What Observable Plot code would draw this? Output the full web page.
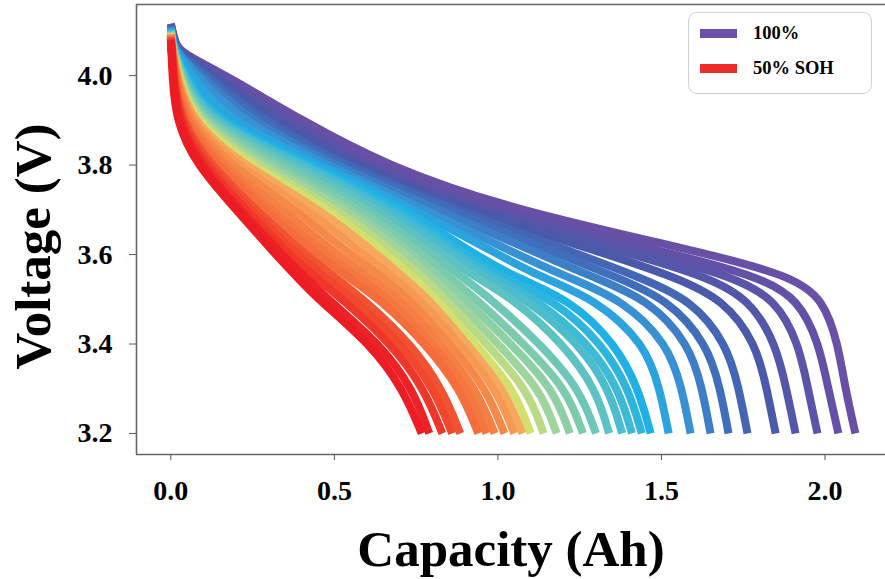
<!DOCTYPE html>
<html>
<head>
<meta charset="utf-8">
<script src="https://cdn.jsdelivr.net/npm/d3@7"></script>
<script src="https://cdn.jsdelivr.net/npm/@observablehq/plot@0.6"></script>
<style>
  html, body { margin: 0; padding: 0; background: #fff; }
  #wrap { position: relative; width: 885px; height: 579px; overflow: hidden; }
  #legend {
    position: absolute; left: 688px; top: 12px; width: 184px; height: 82px;
    border: 1.5px solid #d0d0d0; border-radius: 9px; box-sizing: border-box;
    font-family: "Liberation Serif", "Times New Roman", serif; font-weight: bold; font-size: 18.5px;
  }
  .item { position: absolute; left: 11px; display: flex; align-items: center; }
  .sw { width: 37px; height: 9px; margin-right: 16px; }
</style>
</head>
<body>
<div id="wrap">
  <div id="chart"></div>
  <div id="legend"></div>
</div>
<script>
// Voltage levels (V) at which each curve's capacity is read
const voltageLevels = [4.07, 4.05, 4.0, 3.9, 3.8, 3.7, 3.6, 3.55, 3.5, 3.4, 3.3, 3.2];

// Starting voltage (at 0 Ah) of each discharge curve, from 100% down to 50% SOH
const startVoltages = [4.116, 4.115, 4.114, 4.113, 4.112, 4.111, 4.110, 4.109, 4.108, 4.106, 4.104,
  4.103, 4.102, 4.101, 4.100, 4.099, 4.098, 4.097, 4.096, 4.095, 4.094, 4.093, 4.092, 4.091,
  4.090, 4.089, 4.088, 4.086, 4.084, 4.082, 4.080, 4.078];

// Capacity (Ah) reached by each curve at each voltage level
const curveCapacities = [
  [0.014, 0.035, 0.170, 0.40, 0.655, 1.040, 1.66, 1.90, 1.995, 2.040, 2.062, 2.093],
  [0.013, 0.033, 0.155, 0.37, 0.600, 0.970, 1.55, 1.80, 1.920, 1.982, 2.010, 2.041],
  [0.012, 0.031, 0.145, 0.35, 0.580, 0.940, 1.48, 1.72, 1.850, 1.920, 1.948, 1.977],
  [0.011, 0.029, 0.135, 0.33, 0.560, 0.920, 1.42, 1.64, 1.770, 1.850, 1.882, 1.910],
  [0.010, 0.027, 0.125, 0.31, 0.550, 0.900, 1.34, 1.54, 1.690, 1.790, 1.822, 1.849],
  [0.009, 0.025, 0.110, 0.28, 0.530, 0.870, 1.25, 1.43, 1.590, 1.700, 1.737, 1.763],
  [0.009, 0.023, 0.100, 0.26, 0.510, 0.850, 1.19, 1.36, 1.520, 1.640, 1.680, 1.705],
  [0.008, 0.021, 0.090, 0.24, 0.495, 0.820, 1.13, 1.29, 1.460, 1.585, 1.625, 1.650],
  [0.007, 0.019, 0.080, 0.21, 0.475, 0.780, 1.06, 1.21, 1.380, 1.520, 1.563, 1.589],
  [0.007, 0.017, 0.065, 0.17, 0.455, 0.750, 1.00, 1.13, 1.300, 1.450, 1.495, 1.522],
  [0.006, 0.015, 0.045, 0.13, 0.440, 0.720, 0.93, 1.05, 1.220, 1.360, 1.430, 1.467],
  [0.006, 0.014, 0.042, 0.12, 0.420, 0.700, 0.90, 1.01, 1.170, 1.320, 1.400, 1.440],
  [0.005, 0.013, 0.040, 0.11, 0.410, 0.680, 0.88, 0.98, 1.120, 1.280, 1.370, 1.410],
  [0.005, 0.012, 0.038, 0.105, 0.400, 0.660, 0.86, 0.96, 1.090, 1.250, 1.340, 1.380],
  [0.005, 0.012, 0.035, 0.10, 0.375, 0.640, 0.83, 0.93, 1.050, 1.200, 1.300, 1.340],
  [0.004, 0.011, 0.032, 0.09, 0.350, 0.610, 0.80, 0.89, 0.980, 1.130, 1.250, 1.300],
  [0.004, 0.010, 0.030, 0.085, 0.325, 0.585, 0.77, 0.85, 0.935, 1.080, 1.210, 1.260],
  [0.004, 0.010, 0.028, 0.080, 0.300, 0.560, 0.74, 0.82, 0.900, 1.040, 1.170, 1.220],
  [0.003, 0.009, 0.026, 0.075, 0.280, 0.540, 0.72, 0.795, 0.870, 1.000, 1.130, 1.180],
  [0.003, 0.009, 0.024, 0.070, 0.260, 0.515, 0.69, 0.77, 0.840, 0.965, 1.090, 1.140],
  [0.003, 0.008, 0.022, 0.065, 0.240, 0.490, 0.66, 0.74, 0.815, 0.930, 1.050, 1.100],
  [0.003, 0.008, 0.020, 0.060, 0.220, 0.460, 0.63, 0.71, 0.790, 0.905, 1.020, 1.075],
  [0.003, 0.007, 0.018, 0.055, 0.200, 0.420, 0.59, 0.68, 0.760, 0.885, 0.995, 1.050],
  [0.002, 0.007, 0.016, 0.050, 0.180, 0.380, 0.55, 0.645, 0.730, 0.855, 0.965, 1.020],
  [0.002, 0.006, 0.015, 0.045, 0.160, 0.340, 0.51, 0.605, 0.700, 0.825, 0.935, 0.990],
  [0.002, 0.006, 0.014, 0.040, 0.150, 0.305, 0.475, 0.57, 0.670, 0.800, 0.910, 0.965],
  [0.002, 0.005, 0.012, 0.035, 0.140, 0.285, 0.445, 0.54, 0.640, 0.780, 0.885, 0.940],
  [0.001, 0.004, 0.010, 0.030, 0.120, 0.260, 0.41, 0.50, 0.590, 0.735, 0.830, 0.885],
  [0.001, 0.004, 0.009, 0.027, 0.110, 0.245, 0.385, 0.47, 0.560, 0.705, 0.805, 0.860],
  [0.001, 0.003, 0.008, 0.024, 0.100, 0.230, 0.360, 0.44, 0.525, 0.675, 0.775, 0.830],
  [0.001, 0.003, 0.007, 0.020, 0.088, 0.210, 0.340, 0.41, 0.480, 0.640, 0.740, 0.790],
  [0.001, 0.002, 0.005, 0.015, 0.078, 0.200, 0.320, 0.385, 0.450, 0.610, 0.710, 0.767]
];

// Colour stops along end capacity (red = 50% SOH ... purple = 100%)
const colorStops = [0.767, 0.80, 0.86, 0.94, 1.02, 1.075, 1.10, 1.18, 1.30, 1.40, 1.467, 1.59, 1.705, 1.85, 2.093];
const colorRange = ["#ec1c24", "#ee2527", "#f0472d", "#f36e3c", "#f58a48", "#f6a85c", "#d4e06e",
  "#9fd49c", "#6cc7b6", "#45bbd3", "#1fb1e6", "#3791d3", "#416ebb", "#4a59aa", "#6a4fa6"];

const xTicks = [0.0, 0.5, 1.0, 1.5, 2.0];
const yTicks = [3.2, 3.4, 3.6, 3.8, 4.0];
const xDomain = [-0.105, 2.185];
const yDomain = [3.153, 4.159];

const legendLabels = ["100%", "50% SOH"];
const legendColors = ["#6c50a9", "#ee2a26"];

// Build the long table
const rows = [];
curveCapacities.forEach((caps, i) => {
  const end = caps[caps.length - 1];
  rows.push({curve: i, cap: 0, v: startVoltages[i], end});
  caps.forEach((c, j) => rows.push({curve: i, cap: c, v: voltageLevels[j], end}));
});

const serif = "'Liberation Serif', 'Times New Roman', serif";

const chart = Plot.plot({
  width: 885,
  height: 579,
  marginLeft: 136,
  marginRight: 0,
  marginTop: 4,
  marginBottom: 125,
  style: {fontFamily: serif, fontWeight: "bold", color: "#000", background: "#fff"},
  x: {domain: xDomain},
  y: {domain: yDomain},
  color: {type: "linear", domain: colorStops, range: colorRange, interpolate: "rgb"},
  marks: [
    Plot.line(rows, {x: "cap", y: "v", z: "curve", stroke: "end", strokeWidth: 8,
      curve: "basis", strokeLinecap: "butt", strokeLinejoin: "round"}),
    Plot.ruleX([xDomain[0]], {stroke: "#666", strokeWidth: 1.6}),
    Plot.ruleY([yDomain[0], yDomain[1]], {stroke: "#666", strokeWidth: 1.6}),
    Plot.axisX({ticks: xTicks, tickFormat: ".1f", tickSize: 6, tickPadding: 20, fontSize: 28,
      stroke: "#555", label: null}),
    Plot.axisY({ticks: yTicks, tickFormat: ".1f", tickSize: 7, tickPadding: 17, fontSize: 28,
      stroke: "#555", label: null}),
    Plot.text(["Capacity (Ah)"], {frameAnchor: "bottom", dy: 95, fontSize: 51, fontWeight: "bold",
      fill: "#000", lineAnchor: "middle", textAnchor: "middle"}),
    Plot.text(["Voltage (V)"], {frameAnchor: "left", dx: -103, dy: 17, rotate: -90, fontSize: 51,
      fontWeight: "bold", fill: "#000", lineAnchor: "middle", textAnchor: "middle"})
  ]
});
document.getElementById("chart").appendChild(chart);

// Legend
const legend = document.getElementById("legend");
legendLabels.forEach((lab, i) => {
  const it = document.createElement("div");
  it.className = "item";
  it.style.top = (i === 0 ? 10 : 45) + "px";
  const sw = document.createElement("div");
  sw.className = "sw";
  sw.style.background = legendColors[i];
  const tx = document.createElement("span");
  tx.textContent = lab;
  it.appendChild(sw); it.appendChild(tx);
  legend.appendChild(it);
});
</script>
</body>
</html>
